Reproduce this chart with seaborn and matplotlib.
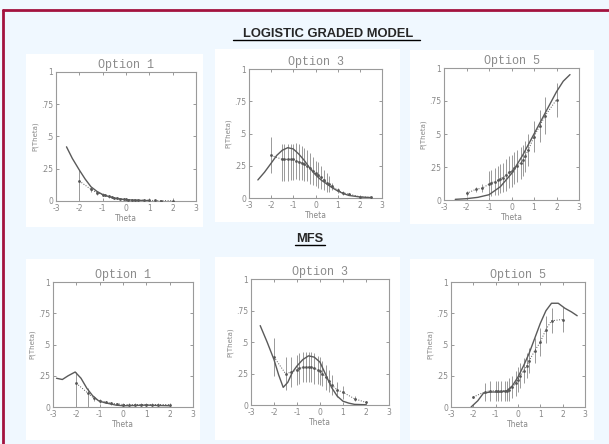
import numpy as np
import pandas as pd
import matplotlib
matplotlib.use("Agg")
import matplotlib.pyplot as plt
import seaborn as sns
from matplotlib.patches import Rectangle

sns.set_style("white")
plt.rcParams["font.family"] = ["DejaVu Sans"]

W, H = 609, 444
BG = "#f0f8ff"

titles = ["Option 1", "Option 3", "Option 5"]
row_titles = ["LOGISTIC GRADED MODEL", "MFS"]
yticks = [0, 0.25, 0.5, 0.75, 1]
ytick_labels = ["0", ".25", ".5", ".75", "1"]
xticks = [-3, -2, -1, 0, 1, 2, 3]

# ---- logistic graded model ----
lgm1_cx = [-2.55, -2.3, -2.0, -1.75, -1.5, -1.25, -1.0, -0.75, -0.5, -0.25, 0, 0.5, 1.0]
lgm1_cy = [0.42, 0.33, 0.24, 0.17, 0.11, 0.075, 0.05, 0.035, 0.022, 0.015, 0.01, 0.005, 0.003]
lgm1_px = [-2, -1.5, -1.25, -1, -0.9, -0.75, -0.6, -0.5, -0.4, -0.25, -0.1, 0, 0.1, 0.25, 0.4, 0.5, 0.75, 1, 1.25, 1.5, 2]
lgm1_py = [0.155, 0.09, 0.065, 0.05, 0.045, 0.035, 0.03, 0.025, 0.022, 0.018, 0.015, 0.012, 0.01, 0.009, 0.008, 0.007, 0.006, 0.005, 0.004, 0.003, 0.002]
lgm1_lo = [0.155, 0.02, 0.015, 0.012, 0.01, 0.01, 0.01, 0.008, 0.008, 0.007, 0.006, 0.005, 0.004, 0.004, 0.003, 0.003, 0.002, 0.002, 0.002, 0.002, 0.002]
lgm1_hi = [0.085, 0.02, 0.015, 0.012, 0.01, 0.01, 0.01, 0.008, 0.008, 0.007, 0.006, 0.005, 0.004, 0.004, 0.003, 0.003, 0.002, 0.002, 0.002, 0.002, 0.002]

lgm3_cx = [-2.6, -2.3, -2.0, -1.75, -1.5, -1.25, -1.0, -0.75, -0.5, -0.25, 0, 0.25, 0.5, 0.75, 1.0, 1.25, 1.5, 2.0, 2.5]
lgm3_cy = [0.14, 0.2, 0.27, 0.33, 0.37, 0.39, 0.38, 0.34, 0.29, 0.23, 0.18, 0.14, 0.11, 0.08, 0.055, 0.035, 0.02, 0.008, 0.003]
lgm3_px = [-2, -1.5, -1.4, -1.25, -1.1, -1.0, -0.9, -0.75, -0.6, -0.5, -0.4, -0.25, -0.1, 0, 0.1, 0.25, 0.4, 0.5, 0.6, 0.75, 1.0, 1.25, 1.5, 2.0, 2.5]
lgm3_py = [0.33, 0.3, 0.3, 0.3, 0.3, 0.3, 0.29, 0.28, 0.27, 0.26, 0.25, 0.23, 0.21, 0.19, 0.18, 0.16, 0.14, 0.12, 0.11, 0.09, 0.06, 0.04, 0.03, 0.01, 0.005]
lgm3_lo = [0.14, 0.17, 0.17, 0.17, 0.16, 0.16, 0.14, 0.14, 0.13, 0.13, 0.12, 0.12, 0.11, 0.1, 0.1, 0.09, 0.08, 0.07, 0.06, 0.03, 0.02, 0.015, 0.01, 0.005, 0.003]
lgm3_hi = [0.14, 0.12, 0.12, 0.12, 0.12, 0.12, 0.14, 0.14, 0.13, 0.13, 0.12, 0.12, 0.11, 0.1, 0.1, 0.09, 0.08, 0.07, 0.06, 0.03, 0.02, 0.015, 0.01, 0.005, 0.003]

lgm5_cx = [-2.5, -2.0, -1.5, -1.0, -0.5, 0, 0.5, 1.0, 1.5, 2.0, 2.3, 2.6]
lgm5_cy = [0.005, 0.01, 0.02, 0.04, 0.1, 0.2, 0.34, 0.5, 0.66, 0.82, 0.9, 0.95]
lgm5_px = [-2, -1.6, -1.3, -1.0, -0.9, -0.75, -0.6, -0.5, -0.4, -0.25, -0.1, 0, 0.1, 0.25, 0.4, 0.5, 0.6, 0.75, 1.0, 1.25, 1.5, 2.0]
lgm5_py = [0.05, 0.08, 0.09, 0.12, 0.13, 0.14, 0.15, 0.16, 0.17, 0.19, 0.21, 0.22, 0.24, 0.26, 0.28, 0.3, 0.33, 0.38, 0.48, 0.56, 0.64, 0.76]
lgm5_lo = [0.02, 0.02, 0.03, 0.1, 0.1, 0.1, 0.11, 0.11, 0.11, 0.12, 0.12, 0.12, 0.12, 0.12, 0.12, 0.12, 0.12, 0.12, 0.12, 0.12, 0.14, 0.13]
lgm5_hi = [0.02, 0.02, 0.03, 0.1, 0.1, 0.1, 0.11, 0.11, 0.11, 0.12, 0.12, 0.12, 0.12, 0.12, 0.12, 0.12, 0.12, 0.12, 0.12, 0.12, 0.14, 0.13]

# ---- MFS ----
mfs1_cx = [-2.85, -2.6, -2.35, -2.05, -1.8, -1.55, -1.3, -1.05, -0.8, -0.55, -0.3, 0, 0.5, 1.0, 1.5, 2.0]
mfs1_cy = [0.23, 0.22, 0.25, 0.28, 0.23, 0.15, 0.09, 0.05, 0.035, 0.025, 0.015, 0.01, 0.012, 0.015, 0.012, 0.01]
mfs1_px = [-2, -1.5, -1.25, -1, -0.75, -0.5, -0.25, 0, 0.25, 0.5, 0.75, 1, 1.25, 1.5, 2]
mfs1_py = [0.19, 0.11, 0.07, 0.05, 0.04, 0.03, 0.025, 0.02, 0.02, 0.02, 0.02, 0.02, 0.02, 0.02, 0.02]
mfs1_lo = [0.19, 0.11, 0.02, 0.015, 0.01, 0.01, 0.01, 0.01, 0.01, 0.01, 0.01, 0.01, 0.01, 0.01, 0.01]
mfs1_hi = [0.09, 0.04, 0.02, 0.015, 0.01, 0.01, 0.01, 0.01, 0.01, 0.01, 0.01, 0.01, 0.01, 0.01, 0.01]

mfs3_cx = [-2.6, -2.3, -2.0, -1.8, -1.6, -1.4, -1.2, -1.0, -0.75, -0.5, -0.25, 0, 0.25, 0.5, 0.75, 1.0, 1.25, 1.5, 2.0]
mfs3_cy = [0.63, 0.5, 0.36, 0.24, 0.14, 0.18, 0.26, 0.31, 0.36, 0.39, 0.38, 0.34, 0.24, 0.14, 0.07, 0.03, 0.015, 0.005, 0.002]
mfs3_px = [-2, -1.5, -1.25, -1, -0.9, -0.75, -0.6, -0.5, -0.4, -0.25, -0.1, 0, 0.1, 0.25, 0.4, 0.5, 0.75, 1.0, 1.5, 2.0]
mfs3_py = [0.38, 0.25, 0.26, 0.28, 0.29, 0.3, 0.3, 0.3, 0.3, 0.29, 0.28, 0.27, 0.25, 0.22, 0.19, 0.16, 0.12, 0.1, 0.05, 0.02]
mfs3_lo = [0.15, 0.13, 0.12, 0.12, 0.12, 0.12, 0.12, 0.12, 0.12, 0.12, 0.11, 0.11, 0.1, 0.1, 0.09, 0.08, 0.06, 0.05, 0.02, 0.01]
mfs3_hi = [0.15, 0.13, 0.12, 0.12, 0.12, 0.12, 0.12, 0.12, 0.12, 0.12, 0.11, 0.11, 0.1, 0.1, 0.09, 0.08, 0.06, 0.05, 0.02, 0.01]

mfs5_cx = [-2.1, -1.8, -1.55, -1.25, -1.0, -0.75, -0.5, -0.25, 0, 0.25, 0.5, 0.75, 1.0, 1.25, 1.5, 1.8, 2.1, 2.4, 2.65]
mfs5_cy = [0.0, 0.05, 0.11, 0.12, 0.12, 0.12, 0.13, 0.17, 0.24, 0.33, 0.43, 0.55, 0.67, 0.77, 0.83, 0.83, 0.79, 0.76, 0.73]
mfs5_px = [-2, -1.5, -1.25, -1, -0.9, -0.75, -0.6, -0.5, -0.4, -0.25, -0.1, 0, 0.1, 0.25, 0.4, 0.5, 0.75, 1.0, 1.25, 1.5, 2.0]
mfs5_py = [0.08, 0.12, 0.13, 0.13, 0.13, 0.13, 0.13, 0.13, 0.14, 0.16, 0.19, 0.22, 0.25, 0.29, 0.33, 0.37, 0.45, 0.52, 0.62, 0.69, 0.7]
mfs5_lo = [0.01, 0.07, 0.08, 0.08, 0.08, 0.08, 0.08, 0.08, 0.09, 0.09, 0.1, 0.1, 0.1, 0.1, 0.1, 0.1, 0.1, 0.11, 0.11, 0.1, 0.1]
mfs5_hi = [0.01, 0.07, 0.08, 0.08, 0.08, 0.08, 0.08, 0.08, 0.09, 0.09, 0.1, 0.1, 0.1, 0.1, 0.1, 0.1, 0.1, 0.11, 0.11, 0.1, 0.1]

panels = [
    (lgm1_cx, lgm1_cy, lgm1_px, lgm1_py, lgm1_lo, lgm1_hi),
    (lgm3_cx, lgm3_cy, lgm3_px, lgm3_py, lgm3_lo, lgm3_hi),
    (lgm5_cx, lgm5_cy, lgm5_px, lgm5_py, lgm5_lo, lgm5_hi),
    (mfs1_cx, mfs1_cy, mfs1_px, mfs1_py, mfs1_lo, mfs1_hi),
    (mfs3_cx, mfs3_cy, mfs3_px, mfs3_py, mfs3_lo, mfs3_hi),
    (mfs5_cx, mfs5_cy, mfs5_px, mfs5_py, mfs5_lo, mfs5_hi),
]

# pixel boxes (left, top, right, bottom)
axes_px = [(56, 72, 196, 201), (249, 69, 382, 198), (444, 68, 579, 200),
           (53, 282, 193, 407), (251, 279, 389, 405), (451, 282, 585, 407)]
white_px = [(26, 54, 203, 227), (215, 49, 400, 222), (410, 50, 594, 224),
            (26, 259, 200, 440), (215, 257, 400, 440), (410, 259, 594, 440)]


def fig_rect(l, t, r, b):
    return [l / W, 1 - b / H, (r - l) / W, (b - t) / H]


fig = plt.figure(figsize=(W / 100, H / 100), dpi=100, facecolor=BG)

# white panel backgrounds (behind the axes)
for l, t, r, b in white_px:
    x0, y0, w, h = fig_rect(l, t, r, b)
    fig.patches.append(Rectangle((x0, y0), w, h, transform=fig.transFigure,
                                 facecolor="white", edgecolor="none", zorder=-5))

# maroon frame
fig.add_artist(plt.Line2D([3 / W, 1], [1 - 10.5 / H] * 2, color="#a3133f", lw=2))
fig.add_artist(plt.Line2D([3 / W] * 2, [0, 1 - 10.5 / H], color="#a3133f", lw=2))

fig.text(328 / W, 1 - 34 / H, row_titles[0], ha="center", va="center",
         fontsize=9.3, fontweight="bold", family="Liberation Sans")
fig.add_artist(plt.Line2D([233 / W, 420 / W], [1 - 40 / H] * 2, color="black", lw=1))
fig.text(310 / W, 1 - 239 / H, row_titles[1], ha="center", va="center",
         fontsize=9.3, fontweight="bold", family="Liberation Sans")
fig.add_artist(plt.Line2D([295 / W, 325 / W], [1 - 245 / H] * 2, color="black", lw=1))

for i, (cx, cy, px_, py_, lo, hi) in enumerate(panels):
    ax = fig.add_axes(fig_rect(*axes_px[i]))
    ax.set_facecolor("white")
    curve = pd.DataFrame({"theta": cx, "p": cy})
    pts = pd.DataFrame({"theta": px_, "p": py_})
    ax.errorbar(px_, py_, yerr=[lo, hi], fmt="none", ecolor="#999999",
                elinewidth=0.7, capsize=0, zorder=2)
    sns.lineplot(data=pts, x="theta", y="p", ax=ax, color="#555555", lw=0.7,
                 linestyle=":", marker="o", markersize=2, markeredgewidth=0, zorder=3)
    sns.lineplot(data=curve, x="theta", y="p", ax=ax, color="#5a5a5a", lw=1.0, zorder=4)
    ax.set_xlim(-3, 3)
    ax.set_ylim(0, 1)
    ax.set_xticks(xticks)
    ax.set_xticklabels([str(t) for t in xticks])
    ax.set_yticks(yticks)
    ax.set_yticklabels(ytick_labels)
    ax.tick_params(direction="in", length=2.5, width=0.6, colors="#888888",
                   labelsize=5.5, pad=2, top=True, right=True, bottom=True, left=True)
    for s in ax.spines.values():
        s.set_color("#9a9a9a")
        s.set_linewidth(0.8)
    ax.set_xlabel("Theta", fontsize=5.5, color="#888888", labelpad=1)
    ax.set_ylabel("P(Theta)", fontsize=5, color="#888888", labelpad=2)
    ax.set_title(titles[i % 3], fontsize=8.5, color="#8a8a8a", pad=3,
                 family="Liberation Mono")

fig.savefig("out.png", dpi=100, facecolor=BG)
